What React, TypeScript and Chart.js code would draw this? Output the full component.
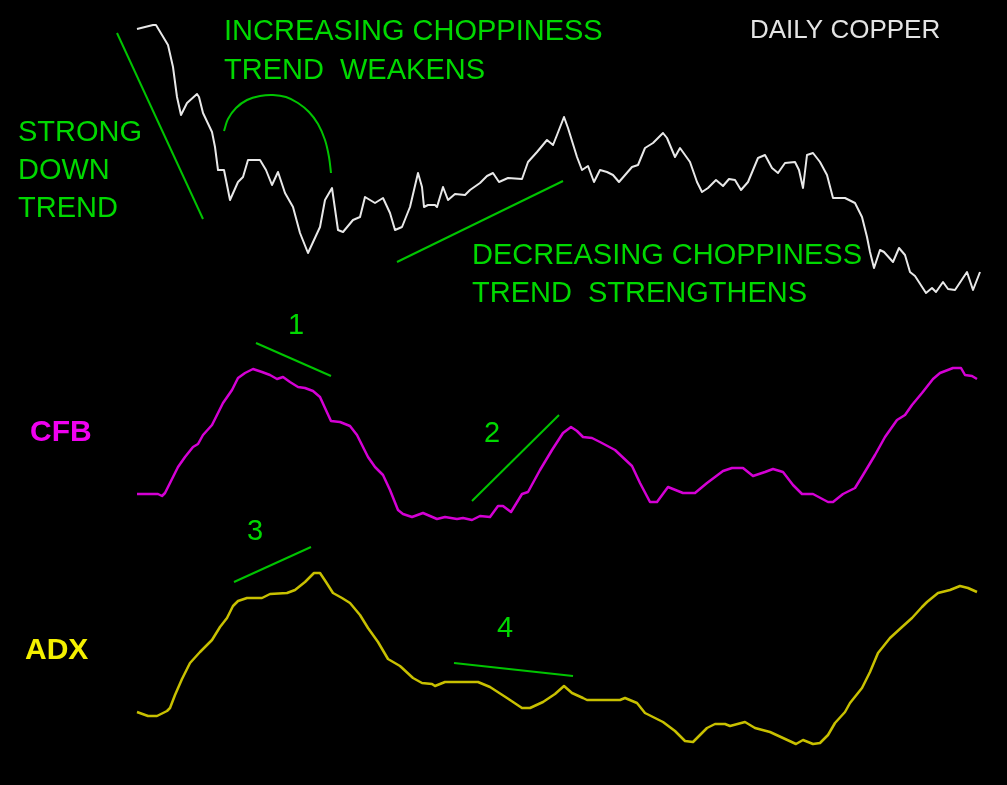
import React, { useEffect, useRef } from "react";
import { Chart, registerables } from "chart.js";

Chart.register(...registerables);

// ---- Daily copper price (day index, cents/lb) ----
const priceDays = [-0.2,3.0,3.6,4.8,6.0,7.0,7.8,8.6,9.8,11.8,12.2,13.0,14.8,15.4,16.0,17.2,18.4,20.0,21.0,22.0,24.4,25.6,26.8,28.0,29.4,31.0,32.4,34.0,36.4,37.4,38.8,40.0,41.0,43.0,44.4,45.4,47.4,49.0,50.4,51.4,52.8,54.4,56.0,56.8,57.2,58.0,59.4,59.8,61.0,62.0,63.4,65.4,66.4,68.4,69.8,71.0,72.2,74.0,76.8,78.0,79.8,81.8,83.0,83.8,85.2,86.0,87.8,88.8,90.0,91.2,92.4,93.8,95.0,96.2,98.8,100.0,101.4,103.0,105.0,105.8,107.4,108.4,110.4,111.8,112.8,114.0,115.6,117.0,118.2,119.4,120.6,122.0,124.0,125.4,126.8,128.0,129.4,131.4,132.2,133.0,133.8,135.0,136.4,137.8,139.0,141.4,143.4,144.8,145.8,146.4,147.2,148.4,149.2,151.0,152.2,153.4,154.4,155.4,157.6,158.8,159.6,161.0,162.0,163.4,165.8,167.0,168.4];
const priceValues = [127.1,127.5,127.5,126.5,125.5,123.3,120.3,118.5,119.7,120.6,120.3,118.7,116.8,115.3,113.0,113.0,110.0,111.8,112.3,114.0,114.0,113.0,111.5,112.8,110.7,109.3,106.7,104.7,107.3,110.0,111.2,107.0,106.8,108.0,108.3,110.3,109.7,110.2,108.7,107.0,107.3,109.3,112.7,111.3,109.3,109.5,109.5,109.3,111.3,110.0,110.6,110.5,111.0,111.7,112.4,112.7,111.8,112.2,112.1,113.8,114.8,116.0,115.5,116.5,118.3,117.2,114.3,113.0,113.4,111.8,113.0,112.8,112.5,111.8,113.3,113.5,115.2,115.7,116.7,116.2,114.3,115.2,113.8,111.8,110.8,111.2,112.0,111.4,112.1,112.0,111.0,111.8,114.2,114.5,113.2,112.7,113.7,113.8,113.0,111.2,114.5,114.7,113.8,112.5,110.2,110.2,109.7,108.3,106.3,104.8,103.2,105.0,104.8,103.8,105.2,104.5,102.8,102.4,100.7,101.2,100.8,101.8,101.1,101.0,102.8,101.0,102.8];

// ---- CFB ----
const cfbDays = [-0.2,4.0,4.8,5.4,6.4,8.0,9.4,11.0,12.0,13.0,14.8,15.8,17.0,18.8,20.0,21.4,23.0,24.8,26.4,27.8,29.0,30.4,32.0,33.4,35.0,36.4,37.4,38.6,40.4,42.4,43.8,46.0,47.4,49.0,50.4,52.0,53.0,54.8,57.0,59.8,61.4,63.8,65.0,66.8,68.4,70.4,72.0,73.0,74.6,76.8,78.0,80.4,82.8,85.0,86.6,87.8,89.0,90.8,92.4,95.4,98.8,100.4,102.4,103.8,106.0,109.0,111.4,113.8,117.0,118.8,121.0,123.0,125.4,127.0,129.0,131.0,132.8,135.0,138.0,139.0,141.0,143.4,145.0,147.4,149.4,151.8,153.4,154.8,156.8,159.0,160.4,163.0,164.6,165.4,166.8,167.8];
const cfbValues = [33,33,32,33.5,38.5,46.5,51.5,56.5,58,62.5,67.5,72.5,78.5,85,91,93.5,95.5,94,92.5,90.5,91.5,89,86.5,86,84.5,81.5,76,69.5,69,67,62.5,51.5,46.5,42.5,35,25,23,21.5,23.5,20.5,21.5,20.5,21,20,22,21.5,27,27,24,33,34,45,55,63.5,66.5,64.5,61.5,61,59,55,47,38.5,29,29,36.5,33.5,33.5,38.5,44.5,46,46,42,44,45.5,44,37.5,33,33,29,29,33,36,42.5,52.5,61.5,70,72.5,77.5,83.5,90.5,93.5,96,96,92.5,92,90.5];

// ---- ADX ----
const adxDays = [-0.2,2.0,3.8,5.8,6.4,7.4,8.8,10.4,12.4,14.8,16.4,17.8,19.0,20.0,21.8,24.8,26.4,29.8,31.4,33.4,35.2,36.4,37.6,39.0,40.8,42.4,44.4,46.0,48.0,50.0,52.4,55.0,56.8,58.8,59.4,61.4,68.0,70.4,73.8,76.8,78.4,81.0,83.4,85.2,86.8,89.0,89.8,96.4,97.4,99.8,101.4,103.8,105.0,107.4,109.4,111.0,113.8,115.4,117.4,118.4,121.4,123.4,126.4,129.0,131.6,133.0,135.0,136.4,138.0,139.4,141.4,142.4,144.8,146.4,148.0,150.4,152.8,154.8,156.8,157.8,160.0,162.4,164.4,166.0,167.8];
const adxValues = [17.6,16.8,16.8,17.8,18.4,21,24.2,27.4,29.6,32,34.6,36.4,38.8,39.8,40.4,40.4,41.2,41.4,42,43.6,45.4,45.4,43.6,41.4,40.4,39.4,37,34.4,31.6,28.2,26.8,24.4,23.4,23.2,22.8,23.6,23.6,22.6,20.4,18.4,18.4,19.6,21.2,22.8,21.4,20.4,20,20,20.4,19.4,17.4,16.2,15.6,13.8,11.8,11.6,14.4,15.2,15.2,14.8,15.6,14.4,13.6,12.4,11.2,12,11.2,11.4,13,15.4,17.6,19.4,22.4,25.6,29.4,32.4,34.6,36.4,38.6,39.6,41.4,42,42.8,42.4,41.6];

// ---- Annotation strokes (day, value on the panel's axis) ----
const downTrendDays = [-4.2, 13.0];
const downTrendValues = [126.7, 108.1];
const choppyArcDays = [17.2, 18.0, 19.6, 21.8, 24.4, 27.0, 29.6, 32.0, 34.2, 36.0, 37.4, 38.2, 38.6];
const choppyArcValues = [116.9, 118.1, 119.2, 120.0, 120.4, 120.5, 120.3, 119.7, 118.8, 117.6, 116.0, 114.3, 112.7];
const upTrendDays = [51.8, 85.0];
const upTrendValues = [103.8, 111.9];
const cfbNote1Days = [23.6, 38.6];
const cfbNote1Values = [108.5, 92];
const cfbNote2Days = [66.8, 84.2];
const cfbNote2Values = [29.5, 72.5];
const adxNote3Days = [19.2, 34.6];
const adxNote3Values = [43.6, 50.6];
const adxNote4Days = [63.2, 87.0];
const adxNote4Values = [27.4, 24.8];

const W = 1007;
const H = 785;

const GREEN_TEXT = "#00d800";
const GREEN_LINE = "#00c400";

type Label = { text: string; x: number; y: number; color: string; font: string };
const greenFont = "29px 'Liberation Sans', Arial, sans-serif";
const LABELS: Label[] = [
  { text: "INCREASING CHOPPINESS", x: 224, y: 40, color: GREEN_TEXT, font: greenFont },
  { text: "TREND  WEAKENS", x: 224, y: 79, color: GREEN_TEXT, font: greenFont },
  { text: "DAILY COPPER", x: 750, y: 38, color: "#e4e4e4", font: "26px 'Liberation Sans', Arial, sans-serif" },
  { text: "STRONG", x: 18, y: 141, color: GREEN_TEXT, font: greenFont },
  { text: "DOWN", x: 18, y: 179, color: GREEN_TEXT, font: greenFont },
  { text: "TREND", x: 18, y: 217, color: GREEN_TEXT, font: greenFont },
  { text: "DECREASING CHOPPINESS", x: 472, y: 264, color: GREEN_TEXT, font: greenFont },
  { text: "TREND  STRENGTHENS", x: 472, y: 302, color: GREEN_TEXT, font: greenFont },
  { text: "1", x: 288, y: 334, color: GREEN_TEXT, font: greenFont },
  { text: "2", x: 484, y: 442, color: GREEN_TEXT, font: greenFont },
  { text: "3", x: 247, y: 540, color: GREEN_TEXT, font: greenFont },
  { text: "4", x: 497, y: 637, color: GREEN_TEXT, font: greenFont },
  { text: "CFB", x: 30, y: 441, color: "#f000f0", font: "bold 30px 'Liberation Sans', Arial, sans-serif" },
  { text: "ADX", x: 25, y: 659, color: "#f4f000", font: "bold 30px 'Liberation Sans', Arial, sans-serif" },
];

const pts = (xs: number[], ys: number[]) => xs.map((x, i) => ({ x, y: ys[i] }));

const labelPlugin = {
  id: "textLabels",
  afterDraw(chart: any) {
    const ctx = chart.ctx as CanvasRenderingContext2D;
    const area = chart.chartArea;
    ctx.save();
    ctx.textAlign = "left";
    ctx.textBaseline = "alphabetic";
    for (const l of LABELS) {
      ctx.font = l.font;
      ctx.fillStyle = l.color;
      ctx.fillText(l.text, area.left + l.x, area.top + l.y);
    }
    ctx.restore();
  },
};

export default function App() {
  const canvasRef = useRef<HTMLCanvasElement | null>(null);

  useEffect(() => {
    document.body.style.margin = "0";
    document.body.style.background = "#000";
    const canvas = canvasRef.current;
    if (!canvas) return;

    const base = { pointRadius: 0, pointHoverRadius: 0, fill: false, tension: 0, borderJoinStyle: "round" as const };
    const note = (xs: number[], ys: number[], axis: string, tension = 0) => ({
      ...base,
      data: pts(xs, ys),
      yAxisID: axis,
      borderColor: GREEN_LINE,
      borderWidth: 2,
      tension,
    });

    const chart = new Chart(canvas, {
      type: "line",
      data: {
        datasets: [
          { ...base, label: "Daily Copper", data: pts(priceDays, priceValues), yAxisID: "yPrice", borderColor: "#e8e8e8", borderWidth: 2 },
          { ...base, label: "CFB", data: pts(cfbDays, cfbValues), yAxisID: "yCfb", borderColor: "#d400d4", borderWidth: 2.5 },
          { ...base, label: "ADX", data: pts(adxDays, adxValues), yAxisID: "yAdx", borderColor: "#c8c000", borderWidth: 2.5 },
          note(downTrendDays, downTrendValues, "yPrice"),
          note(choppyArcDays, choppyArcValues, "yPrice", 0.3),
          note(upTrendDays, upTrendValues, "yPrice"),
          note(cfbNote1Days, cfbNote1Values, "yCfb"),
          note(cfbNote2Days, cfbNote2Values, "yCfb"),
          note(adxNote3Days, adxNote3Values, "yAdx"),
          note(adxNote4Days, adxNote4Values, "yAdx"),
        ],
      },
      options: {
        responsive: false,
        animation: false,
        layout: { padding: 0 },
        plugins: { legend: { display: false }, tooltip: { enabled: false }, title: { display: false } },
        events: [],
        scales: {
          x: { type: "linear", min: -27.6, max: 173.8, display: false },
          yPrice: { type: "linear", min: 51.5, max: 130, display: false },
          yCfb: { type: "linear", min: -112.5, max: 280, display: false },
          yAdx: { type: "linear", min: 3, max: 160, display: false },
        },
      },
      plugins: [labelPlugin],
    });

    return () => chart.destroy();
  }, []);

  return (
    <div style={{ width: W, height: H, background: "#000", position: "relative", overflow: "hidden" }}>
      <canvas ref={canvasRef} width={W} height={H} style={{ display: "block", width: W, height: H }} />
    </div>
  );
}
